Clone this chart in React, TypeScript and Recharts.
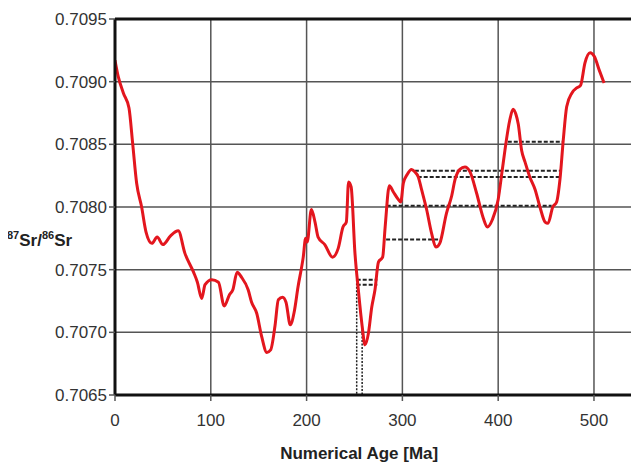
import React from "react";
import { LineChart, Line, XAxis, YAxis, CartesianGrid, ReferenceLine } from "recharts";

const ages: number[] = [
  0, 3.4, 8.7, 14.6, 18.4, 22.6, 27.8, 32.4, 38.5, 44, 50, 58, 66, 73, 82, 86, 90.5, 94, 101, 108,
  114, 119.5, 123, 127.5, 132, 139, 142.6, 148, 153, 158.5, 162.5, 167, 170.5, 175, 178.5, 183, 187,
  191, 196.5, 199, 200.6, 205, 208.8, 212, 219, 227, 233, 238, 241.5, 243.8, 246.5, 250.5, 254, 258,
  261, 264.5, 268, 271.4, 275, 279.4, 282, 286.4, 290.6, 295.8, 298.3, 301, 305, 309.6, 313, 316.6,
  320, 325.3, 330.5, 335, 339, 346, 351.5, 355, 360, 365.3, 370.6, 377.5, 384.5, 388.7, 394, 400,
  404, 407, 412, 415.5, 418.5, 421, 424.5, 428, 433, 438.5, 443.6, 449, 452, 457, 461, 464.5, 468,
  471.5, 477, 482, 486, 490.6, 496, 500.4, 505.6, 510.5,
];

const srRatio: number[] = [
  0.70917, 0.70904, 0.70891, 0.70879, 0.70851, 0.70819, 0.708, 0.7078, 0.70771, 0.70776, 0.7077,
  0.70777, 0.70781, 0.70763, 0.70748, 0.7074, 0.70727, 0.70738, 0.70742, 0.7074, 0.70721, 0.7073,
  0.70734, 0.70748, 0.70744, 0.70734, 0.70724, 0.70715, 0.70697, 0.70684, 0.70686, 0.70705, 0.70726,
  0.70728, 0.70724, 0.70706, 0.70716, 0.70736, 0.7076, 0.70775, 0.70772, 0.70798, 0.70788, 0.70776,
  0.7077, 0.7076, 0.70767, 0.70784, 0.70788, 0.7082, 0.70816, 0.70763, 0.70734, 0.70705, 0.7069,
  0.70699, 0.7072, 0.70734, 0.70756, 0.7076, 0.70784, 0.70817, 0.70812, 0.70806, 0.70804, 0.70819,
  0.70826, 0.7083, 0.70828, 0.70824, 0.70814, 0.70798, 0.70779, 0.70768, 0.70771, 0.70795, 0.70809,
  0.70822, 0.7083, 0.70832, 0.70828, 0.70811, 0.70791, 0.70784, 0.7079, 0.70806, 0.70828, 0.70845,
  0.70869, 0.70878, 0.70874, 0.70866, 0.70845, 0.70836, 0.70824, 0.70814, 0.708, 0.70788, 0.70787,
  0.708, 0.70804, 0.70822, 0.70854, 0.7088, 0.70891, 0.70895, 0.70897, 0.70915, 0.70923, 0.7092,
  0.70909, 0.70899,
];

const xTicks: number[] = [0, 100, 200, 300, 400, 500];
const yTicks: number[] = [0.7065, 0.707, 0.7075, 0.708, 0.7085, 0.709, 0.7095];

// horizontal dashed reference segments: [value, fromAge, toAge]
const hLevels: number[] = [0.70852, 0.70829, 0.70824, 0.70801, 0.70774, 0.70742, 0.70738];
const hFrom: number[] = [410, 313, 316, 283.6, 283, 252.3, 252.3];
const hTo: number[] = [467.6, 466, 464.5, 455.8, 341, 273.8, 273.8];

// vertical dashed reference segments: [age, fromValue, toValue]
const vAges: number[] = [252.3, 258];
const vTop: number[] = [0.70742, 0.70705];
const vBottom: number[] = [0.7065, 0.7065];

const data = ages.map((a, i) => ({ age: a, sr: srRatio[i] }));

const FONT = "'Liberation Sans', Arial, Helvetica, sans-serif";

const YLabel = (props: any) => {
  const vb = props.viewBox || {};
  const x = (vb.x ?? 0) - 1;
  const y = (vb.y ?? 0) + (vb.height ?? 0) * 0.604;
  return (
    <text x={x} y={y} fontFamily={FONT} fontWeight="bold" fontSize={17} fill="#222">
      <tspan fontSize={11} dy={-7}>87</tspan>
      <tspan dy={7}>Sr/</tspan>
      <tspan fontSize={11} dy={-7}>86</tspan>
      <tspan dy={7}>Sr</tspan>
    </text>
  );
};

const XLabel = (props: any) => {
  const vb = props.viewBox || {};
  const x = (vb.x ?? 0) + (vb.width ?? 0) * 0.466;
  const y = (vb.y ?? 0) + 64;
  return (
    <text x={x} y={y} textAnchor="middle" fontFamily={FONT} fontWeight="bold" fontSize={17} fill="#222">
      Numerical Age [Ma]
    </text>
  );
};

export default function App() {
  return (
    <div style={{ fontFamily: FONT }}>
      <LineChart width={631} height={458} data={data} margin={{ top: 11, right: 0, bottom: 0, left: 0 }}>
        <CartesianGrid stroke="#555" strokeWidth={1.5} ticks={undefined} />
        <XAxis
          dataKey="age"
          type="number"
          domain={[0, 547]}
          ticks={xTicks}
          allowDataOverflow
          height={71}
          axisLine={{ stroke: "#111", strokeWidth: 3 }}
          tickLine={{ stroke: "#555", strokeWidth: 1.5 }}
          tickSize={6}
          tickMargin={13}
          tick={{ fill: "#333", fontSize: 17, fontFamily: FONT }}
          label={<XLabel />}
        />
        <YAxis
          type="number"
          domain={[0.7065, 0.7095]}
          ticks={yTicks}
          allowDataOverflow
          width={107}
          axisLine={{ stroke: "#111", strokeWidth: 3 }}
          tickLine={{ stroke: "#555", strokeWidth: 1.5 }}
          tickSize={6}
          tickMargin={2}
          tickFormatter={(v: number) => v.toFixed(4)}
          tick={{ fill: "#333", fontSize: 17, fontFamily: FONT }}
          label={<YLabel />}
        />
        <ReferenceLine y={0.7095} stroke="#111" strokeWidth={3} />
        {hLevels.map((v, i) => (
          <ReferenceLine
            key={"h" + i}
            segment={[{ x: hFrom[i], y: v }, { x: hTo[i], y: v }]}
            stroke="#222"
            strokeWidth={2}
            strokeDasharray="4 2"
          />
        ))}
        {vAges.map((a, i) => (
          <ReferenceLine
            key={"v" + i}
            segment={[{ x: a, y: vTop[i] }, { x: a, y: vBottom[i] }]}
            stroke="#222"
            strokeWidth={1.5}
            strokeDasharray="2 1.5"
          />
        ))}
        <Line
          type="monotone"
          dataKey="sr"
          stroke="#e3161e"
          strokeWidth={3}
          dot={false}
          isAnimationActive={false}
        />
      </LineChart>
    </div>
  );
}
